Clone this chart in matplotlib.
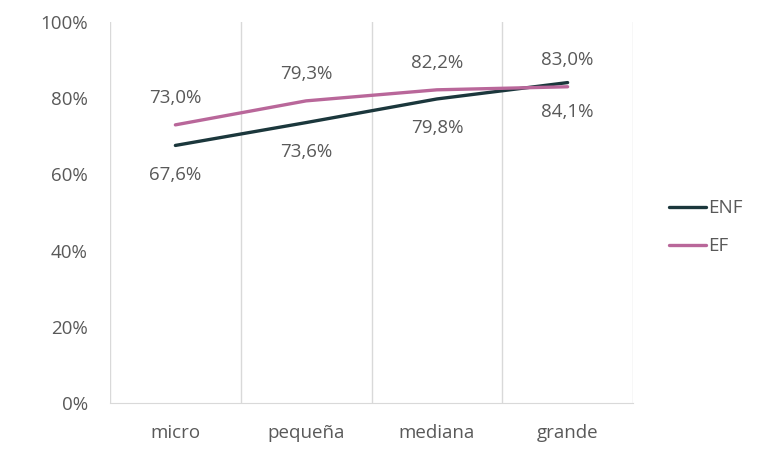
import matplotlib
matplotlib.use("Agg")
from matplotlib import pyplot as plt
from matplotlib.ticker import FixedLocator

categories = ["micro", "pequeña", "mediana", "grande"]
enf = [67.6, 73.6, 79.8, 84.1]
ef = [73.0, 79.3, 82.2, 83.0]

enf_color = "#1b373c"
ef_color = "#b9679a"
text_color = "#595959"
grid_color = "#d9d9d9"
fs = 13.5


def fmt(v):
    return f"{v:.1f}%".replace(".", ",")


def main():
    plt.rcParams["font.family"] = ["Open Sans", "DejaVu Sans"]
    fig = plt.figure(figsize=(7.61, 4.5), dpi=100)
    ax = fig.add_axes([110 / 761, 47 / 450, 523 / 761, 381 / 450])

    x = list(range(len(categories)))
    ax.plot(x, enf, color=enf_color, lw=2.4, label="ENF", solid_capstyle="round", zorder=3)
    ax.plot(x, ef, color=ef_color, lw=2.4, label="EF", solid_capstyle="round", zorder=3)

    # data labels: ENF below, EF above
    for xi, v in zip(x, enf):
        ax.annotate(fmt(v), (xi, v), xytext=(0, -21), textcoords="offset points",
                    ha="center", va="center", fontsize=fs, color=text_color)
    for xi, v in zip(x, ef):
        ax.annotate(fmt(v), (xi, v), xytext=(0, 19), textcoords="offset points",
                    ha="center", va="center", fontsize=fs, color=text_color)

    ax.set_xlim(-0.5, len(categories) - 0.5)
    ax.set_ylim(0, 100)
    ax.set_xticks(x)
    ax.set_xticklabels(categories)
    ax.set_yticks(range(0, 101, 20))
    ax.set_yticklabels([f"{v}%" for v in range(0, 101, 20)])
    ax.xaxis.set_minor_locator(FixedLocator([i - 0.5 for i in range(len(categories) + 1)]))
    ax.grid(True, which="minor", axis="x", color=grid_color, lw=1)
    for gl in ax.get_xgridlines():
        gl.set_clip_on(False)
    ax.tick_params(which="both", length=0)
    ax.tick_params(axis="x", pad=15, labelsize=fs, colors=text_color)
    ax.tick_params(axis="y", pad=16, labelsize=fs, colors=text_color)

    for side in ["top", "right", "left"]:
        ax.spines[side].set_visible(False)
    ax.spines["bottom"].set_color(grid_color)
    ax.set_axisbelow(True)

    leg = fig.legend(loc="center left", bbox_to_anchor=(652 / 761, 0.495), frameon=False,
                     handlelength=2.0, handletextpad=0.1, labelspacing=1.05, fontsize=fs)
    for t in leg.get_texts():
        t.set_color(text_color)

    fig.savefig("out.png", dpi=100)


if __name__ == "__main__":
    main()
